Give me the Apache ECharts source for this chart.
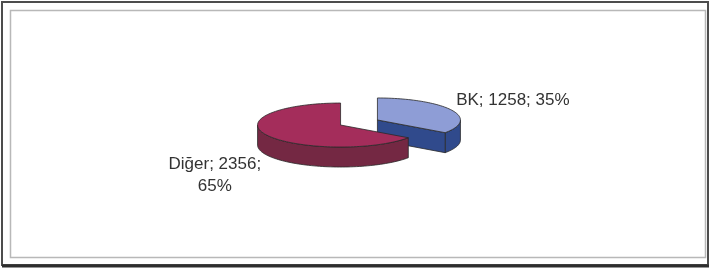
<!DOCTYPE html>
<html>
<head>
<meta charset="utf-8">
<style>
  html, body { margin: 0; padding: 0; background: #fff; }
  #chart { width: 711px; height: 270px; }
</style>
<script src="https://cdn.jsdelivr.net/npm/echarts@6/dist/echarts.min.js"></script>
</head>
<body>
<div id="chart"></div>
<script>
// 数据
var categories = ['BK', 'Diğer'];
var values = [1258, 2356];
var topColors = ['#8e9dd6', '#a42d5b'];
var sideColors = ['#304a8c', '#742843'];

var total = values.reduce(function (a, b) { return a + b; }, 0);

// 3D 饼图的几何参数
var cx = 359, cy = 122.5, rx = 83, ry = 22, depth = 20, explode = 0.25;
// 标签相对扇区外缘中点的偏移
var labelLayout = [
  { dx: 5, dy: -10, align: 'left', wrap: false },
  { dx: -52, dy: 40, align: 'center', wrap: true }
];

function pt(x0, y0, deg, dy) {
  var r = deg * Math.PI / 180;
  return [x0 + rx * Math.sin(r), y0 - ry * Math.cos(r) + (dy || 0)];
}

function arc(x0, y0, s, e, dy) {
  var pts = [];
  var n = Math.max(2, Math.ceil(Math.abs(e - s) / 2));
  for (var i = 0; i <= n; i++) {
    pts.push(pt(x0, y0, s + (e - s) * i / n, dy));
  }
  return pts;
}

function renderItem(params, api) {
  var i = params.dataIndex;
  var v = api.value(0);
  var before = 0;
  for (var k = 0; k < i; k++) before += values[k];
  var a0 = before / total * 360;
  var a1 = (before + v) / total * 360;
  var mid = (a0 + a1) / 2 * Math.PI / 180;
  // 分离（爆炸）效果
  var x0 = cx + explode * rx * Math.sin(mid);
  var y0 = cy - explode * ry * Math.cos(mid);

  var children = [];
  var line = { stroke: '#2a2a2a', lineWidth: 0.8 };

  // 外侧面（只画朝向观察者的部分 90°~270°）
  var s = Math.max(a0, 90), e = Math.min(a1, 270);
  if (e > s) {
    var wall = arc(x0, y0, s, e, 0).concat(arc(x0, y0, e, s, depth));
    children.push({ type: 'polygon', shape: { points: wall },
      style: Object.assign({ fill: sideColors[i] }, line) });
  }
  // 切面
  [[a1, a1 > 0 && a1 < 180], [a0, a0 > 180 && a0 < 360]].forEach(function (f) {
    if (!f[1]) return;
    var p = pt(x0, y0, f[0], 0);
    var face = [[x0, y0], p, [p[0], p[1] + depth], [x0, y0 + depth]];
    children.push({ type: 'polygon', shape: { points: face },
      style: Object.assign({ fill: sideColors[i] }, line) });
  });
  // 顶面
  var top = [[x0, y0]].concat(arc(x0, y0, a0, a1, 0));
  children.push({ type: 'polygon', shape: { points: top },
    style: Object.assign({ fill: topColors[i] }, line) });

  // 标签
  var lay = labelLayout[i];
  var pct = Math.round(v / total * 100);
  var rim = pt(x0, y0, (a0 + a1) / 2, 0);
  var txt = categories[i] + '; ' + v + ';' + (lay.wrap ? '\n' : ' ') + pct + '%';
  children.push({
    type: 'text',
    style: {
      text: txt,
      x: rim[0] + lay.dx,
      y: rim[1] + lay.dy,
      fill: '#333',
      fontSize: 17,
      fontFamily: '"Liberation Sans", Arial, sans-serif',
      lineHeight: 22,
      align: lay.align,
      verticalAlign: 'middle'
    }
  });

  return { type: 'group', children: children };
}

var chart = echarts.init(document.getElementById('chart'));

var option = {
  backgroundColor: '#fff',
  animation: false,
  graphic: [
    { type: 'rect', shape: { x: 2, y: 2, width: 706, height: 263 },
      style: { fill: 'none', stroke: '#4d4d4d', lineWidth: 2 } },
    { type: 'line', shape: { x1: 2, y1: 266, x2: 709, y2: 266 },
      style: { stroke: '#2e2e2e', lineWidth: 3 } },
    { type: 'rect', shape: { x: 10.5, y: 10.5, width: 695, height: 247 },
      style: { fill: 'none', stroke: '#b8b8b8', lineWidth: 1.5 } }
  ],
  series: [{
    type: 'custom',
    coordinateSystem: 'none',
    renderItem: renderItem,
    data: values.map(function (v, i) { return { name: categories[i], value: [v] }; })
  }]
};

chart.setOption(option);
</script>
</body>
</html>
